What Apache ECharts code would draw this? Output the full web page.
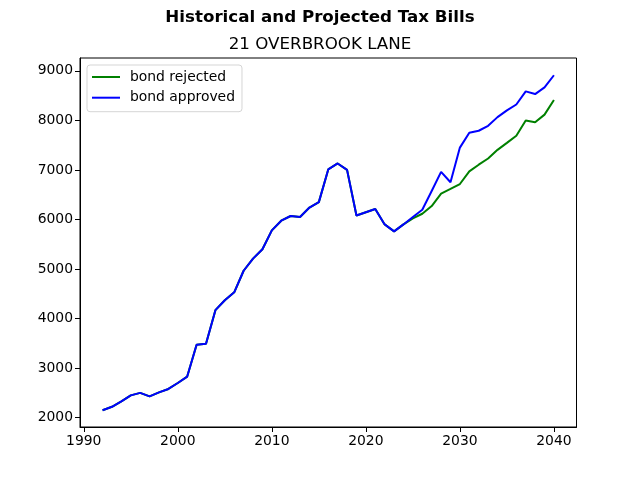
<!DOCTYPE html>
<html>
<head>
<meta charset="utf-8">
<script src="https://cdn.jsdelivr.net/npm/echarts@6/dist/echarts.min.js"></script>
<style>html,body{margin:0;padding:0;background:#fff;}#c{width:640px;height:480px;}</style>
</head>
<body>
<div id="c"></div>
<script>
const years = [1992,1993,1994,1995,1996,1997,1998,1999,2000,2001,2002,2003,2004,2005,2006,2007,2008,2009,2010,2011,2012,2013,2014,2015,2016,2017,2018,2019,2020,2021,2022,2023,2024,2025,2026,2027,2028,2029,2030,2031,2032,2033,2034,2035,2036,2037,2038,2039,2040];
const bondApproved = [2150,2220,2330,2450,2500,2430,2510,2580,2700,2830,3470,3490,4170,4370,4530,4965,5210,5400,5780,5975,6070,6050,6240,6350,7010,7130,7000,6080,6145,6210,5900,5760,5900,6050,6195,6575,6960,6750,7450,7750,7790,7890,8065,8200,8320,8585,8530,8665,8910];
const bondRejected = [2150,2220,2330,2450,2500,2430,2510,2580,2700,2830,3470,3490,4170,4370,4530,4965,5210,5400,5780,5975,6070,6050,6240,6350,7010,7130,7000,6080,6145,6210,5900,5760,5900,6020,6115,6270,6520,6615,6715,6970,7105,7230,7405,7545,7690,7995,7960,8115,8410];
const xTicks = [1990,2000,2010,2020,2030,2040];
const yTicks = [2000,3000,4000,5000,6000,7000,8000,9000];

const font = 'DejaVu Sans';
const chart = echarts.init(document.getElementById('c'));
chart.setOption({
  animation: false,
  backgroundColor: '#fff',
  textStyle: {fontFamily: font},
  title: [
    {text: 'Historical and Projected Tax Bills', left: 'center', top: 4,
     textStyle: {fontFamily: font, fontWeight: 'bold', fontSize: 16.7, color: '#000'}},
    {text: '21 OVERBROOK LANE', left: 'center', top: 31,
     textStyle: {fontFamily: font, fontWeight: 'normal', fontSize: 16.7, color: '#000'}}
  ],
  legend: {
    orient: 'vertical', left: 87, top: 65,
    padding: [5, 7, 7, 5],
    icon: 'rect',
    itemWidth: 28, itemHeight: 2, itemGap: 6.7,
    backgroundColor: '#fff', borderColor: '#d5d5d5', borderWidth: 1, borderRadius: 3,
    textStyle: {fontFamily: font, fontSize: 13.9, lineHeight: 14, color: '#000', padding: [0, 0, 0, 5]},
    data: ['bond rejected', 'bond approved']
  },
  grid: {left: 80, right: 63.5, top: 58, bottom: 53, show: true, borderColor: '#000', borderWidth: 1, backgroundColor: 'transparent'},
  xAxis: {
    type: 'value', min: 1989.6, max: 2042.4,
    splitLine: {show: false},
    axisLine: {show: true, lineStyle: {color: '#000', width: 1}},
    axisTick: {show: true, length: 5, lineStyle: {color: '#000'}, customValues: xTicks},
    axisLabel: {color: '#000', fontSize: 13.9, fontFamily: font, margin: 7, customValues: xTicks, formatter: v => String(v)}
  },
  yAxis: {
    type: 'value', min: 1812, max: 9258,
    splitLine: {show: false},
    axisLine: {show: true, lineStyle: {color: '#000', width: 1}},
    axisTick: {show: true, length: 5, lineStyle: {color: '#000'}, customValues: yTicks},
    axisLabel: {color: '#000', fontSize: 13.9, fontFamily: font, margin: 7, customValues: yTicks, formatter: v => String(v)}
  },
  series: [
    {name: 'bond rejected', type: 'line', symbol: 'none', color: '#008000',
     lineStyle: {color: '#008000', width: 2}, data: years.map((y, i) => [y, bondRejected[i]])},
    {name: 'bond approved', type: 'line', symbol: 'none', color: '#0000ff',
     lineStyle: {color: '#0000ff', width: 2}, data: years.map((y, i) => [y, bondApproved[i]])}
  ]
});
</script>
</body>
</html>
